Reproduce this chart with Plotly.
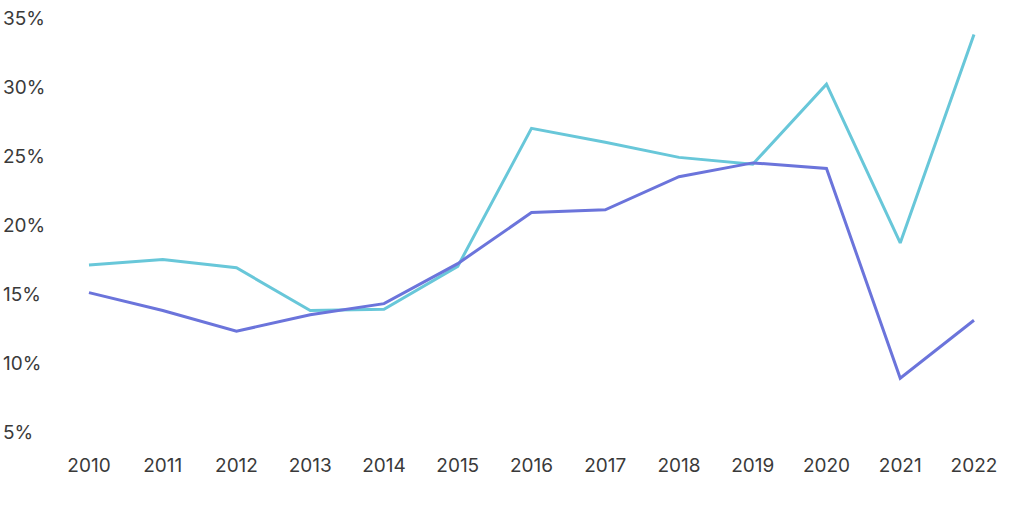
import plotly.graph_objects as go

# values (percent)
years = [2010, 2011, 2012, 2013, 2014, 2015, 2016, 2017, 2018, 2019, 2020, 2021, 2022]
cyan_vals = [17.1, 17.5, 16.9, 13.8, 13.9, 17.0, 27.0, 26.0, 24.9, 24.4, 30.2, 18.7, 33.8]
blue_vals = [15.1, 13.8, 12.3, 13.5, 14.3, 17.2, 20.9, 21.1, 23.5, 24.5, 24.1, 8.9, 13.1]
y_ticks = [5, 10, 15, 20, 25, 30, 35]

W, H = 1024, 512
L, R, T, B = 60, 20, 10, 72

fig = go.Figure()
fig.add_trace(go.Scatter(x=years, y=cyan_vals, mode="lines",
                         line=dict(color="#68C7D9", width=3), name="A"))
fig.add_trace(go.Scatter(x=years, y=blue_vals, mode="lines",
                         line=dict(color="#6B74DB", width=3), name="B"))

# y tick labels drawn left-aligned at the page edge
plot_w = W - L - R
for v in y_ticks:
    fig.add_annotation(x=-(L - 1) / plot_w, xref="paper", y=v, yref="y",
                       text=f"{v}%", showarrow=False, xanchor="left",
                       font=dict(size=19, color="#3a3a3a"))

fig.update_layout(
    width=W, height=H,
    margin=dict(l=L, r=R, t=T, b=B),
    plot_bgcolor="white", paper_bgcolor="white",
    showlegend=False,
    font=dict(family="Inter", size=19, color="#3a3a3a"),
)
fig.update_xaxes(range=[2009.607, 2022.407], tickvals=years, ticklabelstandoff=12,
                 showgrid=False, zeroline=False, showline=False, ticks="")
fig.update_yaxes(range=[4.42, 35.58], tickvals=y_ticks, showticklabels=False,
                 showgrid=False, zeroline=False, showline=False, ticks="")

# drop the default page margin so the figure sits at the window corner
fig.write_html("out.html", config={"displayModeBar": False},
               post_script="document.body.style.margin='0';")
